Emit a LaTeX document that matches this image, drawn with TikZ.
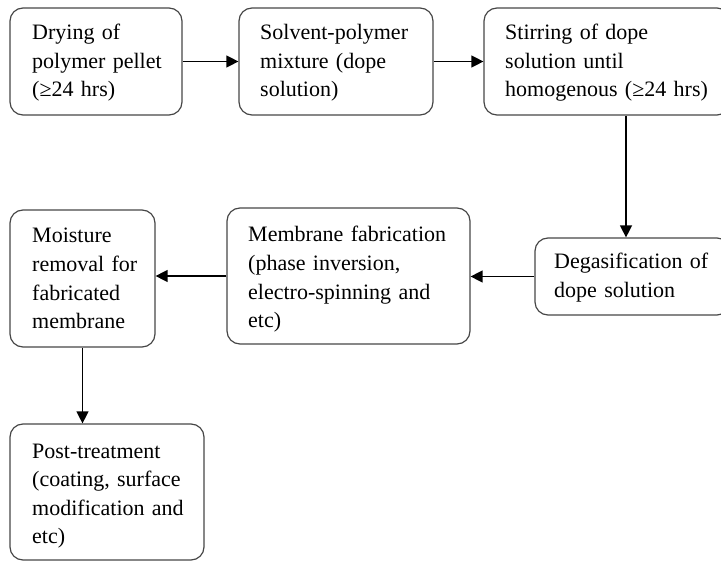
\documentclass[tikz,border=0pt]{standalone}
\usepackage{fontspec}
\setmainfont{Liberation Serif}
\usetikzlibrary{arrows.meta}
\begin{document}
\begin{tikzpicture}[x=1bp,y=-1bp,
  box/.style={draw=black!72, line width=1.2bp, rounded corners=13bp, inner sep=0pt},
  txt/.style={anchor=base west, inner sep=0pt, text width=260bp, align=left, font=\fontsize{22bp}{28.5bp}\selectfont},
  arr/.style={draw=black, line width=1.3bp, -{Triangle[length=12bp,width=12bp]}}]
\useasboundingbox (0,0) rectangle (721,561);
\clip (0,0) rectangle (721,561);
% boxes
\node[box, minimum width=172bp, minimum height=107bp] (A) at (96,61.5) {};
\node[box, minimum width=194bp, minimum height=107bp] (B) at (336,61.5) {};
\node[box, minimum width=246bp, minimum height=107bp] (C) at (607,61.5) {};
\node[box, minimum width=195bp, minimum height=77bp] (D) at (632.5,276.5) {};
\node[box, minimum width=243bp, minimum height=136bp] (E) at (348.5,276) {};
\node[box, minimum width=145bp, minimum height=137bp] (F) at (82.5,278.5) {};
\node[box, minimum width=194bp, minimum height=136bp] (G) at (107,492) {};
% texts
\node[txt] (At) at (32,40) {Drying of\\polymer pellet\\(≥24 hrs)};
\node[txt] (Bt) at (260,40) {Solvent-polymer\\mixture (dope\\solution)};
\node[txt] (Ct) at (505,40) {Stirring of dope\\solution until\\homogenous (≥24 hrs)};
\node[txt] (Dt) at (554,269) {Degasification of\\dope solution};
\node[txt] (Et) at (248,242) {Membrane fabrication\\(phase inversion,\\electro-spinning and\\etc)};
\node[txt] (Ft) at (32,243) {Moisture\\removal for\\fabricated\\membrane};
\node[txt] (Gt) at (32,458) {Post-treatment\\(coating, surface\\modification and\\etc)};
% connectors
\draw[arr] (A.east) -- (B.west);
\draw[arr] (B.east) -- (C.west);
\draw[arr] ([xshift=19bp]C.south) -- ([xshift=19bp]C.south |- D.north);
\draw[arr] (D.west) -- (D.west -| E.east);
\draw[arr] (E.west) -- (E.west -| F.east);
\draw[arr] (F.south) -- (F.south |- G.north);
\end{tikzpicture}
\end{document}
